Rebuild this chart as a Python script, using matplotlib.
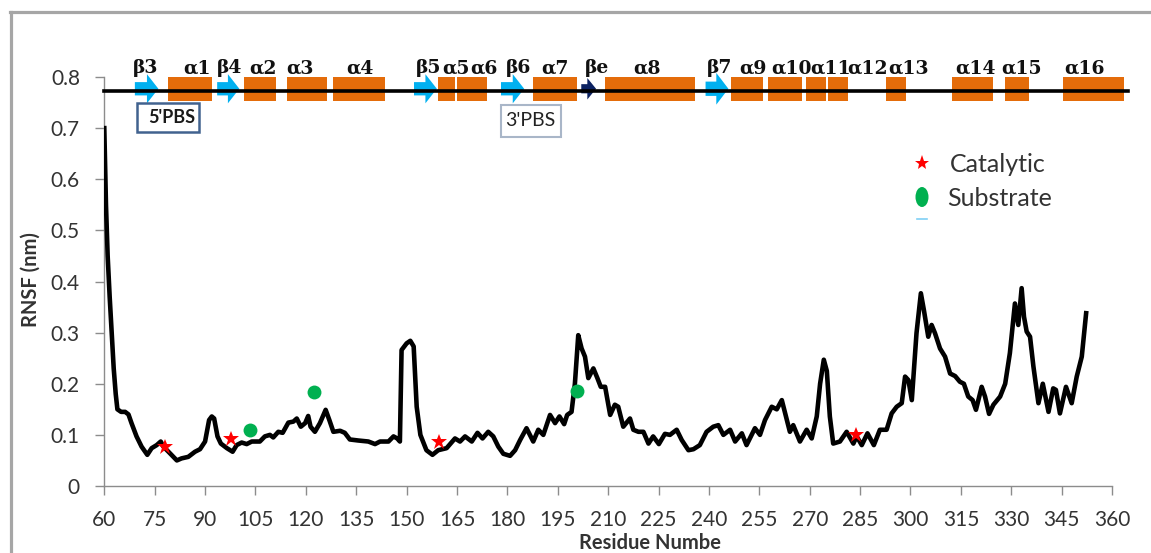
import matplotlib
matplotlib.use("Agg")
import matplotlib.pyplot as plt
from matplotlib.patches import Rectangle, FancyArrow, Ellipse
from matplotlib.lines import Line2D

plt.rcParams['font.family'] = ['Lato', 'DejaVu Sans']

# RMSF profile along the residue chain
residue = [60.0, 60.5, 61.0, 61.6, 62.2, 62.8, 63.4, 63.9, 65.0, 66.2, 67.2, 68.1, 69.6, 71.1,
           72.8, 74.1, 75.6, 76.8, 77.6, 79.1, 81.6, 83.0, 85.0, 87.0, 88.5, 90.0, 91.2, 92.0,
           92.7, 93.7, 94.7, 96.5, 98.2, 99.4, 100.9, 102.4, 103.9, 106.3, 107.8, 109.3, 110.3,
           111.8, 113.1, 114.8, 116.3, 117.3, 118.5, 119.8, 120.7, 121.4, 122.7, 124.2, 125.9,
           127.0, 128.2, 130.2, 131.6, 133.1, 135.6, 138.6, 140.6, 142.1, 144.6, 146.1, 147.2,
           148.0, 148.5, 150.0, 151.1, 152.1, 153.0, 154.1, 155.9, 157.7, 159.4, 161.9, 164.4,
           165.9, 167.4, 169.4, 171.1, 172.6, 174.3, 175.8, 177.3, 178.8, 180.8, 182.3, 183.8,
           185.7, 187.7, 189.2, 190.7, 192.7, 194.2, 195.5, 196.9, 197.8, 199.1, 200.1, 201.1,
           202.1, 203.1, 204.1, 205.6, 206.8, 207.8, 209.1, 210.6, 212.0, 213.0, 214.5, 216.5,
           217.5, 219.0, 220.5, 222.0, 223.4, 225.1, 226.9, 228.4, 230.4, 231.9, 233.9, 235.4,
           237.3, 239.3, 241.3, 242.8, 244.3, 246.3, 247.8, 249.8, 251.2, 253.7, 255.2, 256.7,
           258.7, 260.2, 261.7, 262.6, 264.1, 265.1, 267.1, 269.1, 270.6, 272.1, 273.1, 274.2,
           275.1, 276.0, 277.0, 279.0, 281.0, 283.0, 284.0, 285.5, 287.2, 289.1, 290.9, 292.9,
           294.4, 295.9, 297.4, 298.4, 299.4, 300.4, 301.8, 303.1, 304.0, 305.3, 306.3, 307.3,
           308.8, 310.3, 311.8, 313.3, 314.7, 315.9, 317.2, 318.5, 319.5, 321.2, 322.2, 323.4,
           324.7, 326.7, 328.2, 329.6, 331.1, 332.1, 333.1, 333.8, 334.6, 335.6, 336.6, 338.1,
           339.4, 341.1, 342.5, 343.3, 344.5, 346.3, 348.0, 349.5, 351.0, 352.3]
rmsf = [0.700, 0.550, 0.450, 0.370, 0.300, 0.230, 0.180, 0.150, 0.145, 0.145, 0.140, 0.123, 0.097,
        0.077, 0.061, 0.074, 0.080, 0.087, 0.077, 0.067, 0.050, 0.054, 0.057, 0.067, 0.072, 0.087,
        0.129, 0.136, 0.132, 0.097, 0.083, 0.074, 0.067, 0.080, 0.085, 0.082, 0.087, 0.087, 0.097,
        0.100, 0.095, 0.106, 0.104, 0.124, 0.126, 0.132, 0.116, 0.123, 0.137, 0.116, 0.106, 0.123,
        0.149, 0.129, 0.106, 0.108, 0.104, 0.091, 0.089, 0.087, 0.082, 0.087, 0.087, 0.097, 0.093,
        0.087, 0.266, 0.279, 0.284, 0.273, 0.155, 0.100, 0.070, 0.061, 0.070, 0.074, 0.093, 0.087,
        0.097, 0.087, 0.104, 0.093, 0.106, 0.097, 0.077, 0.063, 0.059, 0.070, 0.090, 0.113, 0.087,
        0.110, 0.100, 0.139, 0.123, 0.136, 0.121, 0.139, 0.145, 0.200, 0.295, 0.269, 0.253, 0.211,
        0.230, 0.211, 0.194, 0.194, 0.139, 0.159, 0.155, 0.116, 0.132, 0.110, 0.106, 0.106, 0.083,
        0.097, 0.082, 0.102, 0.100, 0.110, 0.090, 0.070, 0.072, 0.080, 0.106, 0.116, 0.119, 0.100,
        0.110, 0.087, 0.103, 0.080, 0.113, 0.100, 0.129, 0.155, 0.150, 0.168, 0.145, 0.106, 0.119,
        0.087, 0.110, 0.093, 0.136, 0.200, 0.247, 0.225, 0.136, 0.083, 0.087, 0.106, 0.083, 0.097,
        0.080, 0.103, 0.080, 0.110, 0.110, 0.142, 0.155, 0.162, 0.214, 0.207, 0.168, 0.299, 0.377,
        0.344, 0.292, 0.315, 0.299, 0.269, 0.253, 0.220, 0.215, 0.204, 0.200, 0.175, 0.168, 0.149,
        0.194, 0.175, 0.141, 0.159, 0.175, 0.200, 0.260, 0.357, 0.315, 0.387, 0.331, 0.302, 0.292,
        0.234, 0.162, 0.200, 0.145, 0.191, 0.188, 0.142, 0.194, 0.162, 0.214, 0.253, 0.338]

# Catalytic and substrate-binding residues
catalytic_res = [78.1, 97.6, 159.6, 283.7]
catalytic_val = [0.076, 0.092, 0.086, 0.099]
substrate_res = [103.4, 122.4, 200.6]
substrate_val = [0.110, 0.183, 0.185]

# Secondary-structure elements (start, end residue)
helix_names = ['α1', 'α2', 'α3', 'α4', 'α5', 'α6', 'α7', 'α8', 'α9', 'α10', 'α11', 'α12',
               'α13', 'α14', 'α15', 'α16']
helix_start = [78.9, 101.7, 114.3, 128.1, 159.4, 164.9, 187.7, 209.1, 246.6, 257.7, 268.9,
               275.5, 292.7, 312.5, 328.2, 345.3]
helix_end = [92.0, 111.1, 126.2, 143.6, 164.4, 174.0, 200.8, 235.9, 256.0, 267.8, 274.9,
             281.5, 298.6, 324.5, 335.3, 363.6]
strand_names = ['β3', 'β4', 'β5', 'β6', 'βe', 'β7']
strand_start = [69.1, 93.6, 152.2, 178.1, 202.0, 239.0]
strand_end = [76.1, 100.2, 159.0, 185.0, 206.4, 245.8]

# Label positions above the structure track
label_text = ['β3', 'α1', 'β4', 'α2', 'α3', 'α4', 'β5', 'α5', 'α6', 'β6', 'α7', 'βe', 'α8',
              'β7', 'α9', 'α10', 'α11', 'α12', 'α13', 'α14', 'α15', 'α16']
label_pos = [72.3, 87.5, 97.3, 107.3, 118.3, 136.1, 156.4, 164.6, 173.0, 183.2, 194.3, 206.7,
             221.5, 243.1, 253.0, 264.5, 276.3, 287.2, 299.4, 319.5, 333.1, 351.7]

x_ticks = list(range(60, 361, 15))
y_ticks = [0, 0.1, 0.2, 0.3, 0.4, 0.5, 0.6, 0.7, 0.8]
y_ticklabels = ['0', '0.1', '0.2', '0.3', '0.4', '0.5', '0.6', '0.7', '0.8']

ORANGE = '#e46c0a'
BLUE = '#00b0f0'
NAVY = '#0c2262'
AXIS_GRAY = '#8c8c8c'
TEXT = '#333333'

fig = plt.figure(figsize=(11.51, 5.53), dpi=100)
fig.patch.set_facecolor('white')

# outer chart frame (top and left edges)
fig.add_artist(Line2D([10 / 1151, 1.0], [1 - 11.5 / 553, 1 - 11.5 / 553],
                      transform=fig.transFigure, color='#a6a6a6', lw=2.3))
fig.add_artist(Line2D([10.5 / 1151, 10.5 / 1151], [0.0, 1 - 11.5 / 553],
                      transform=fig.transFigure, color='#a6a6a6', lw=2.3))

ax = fig.add_axes([104.3 / 1151, 1 - 486 / 553, (1112 - 104.3) / 1151, (486 - 77) / 553])
ax.set_xlim(60, 360)
ax.set_ylim(0, 0.8)

ax.plot(residue, rmsf, color='black', lw=3.3, solid_joinstyle='round', zorder=3)
ax.plot(catalytic_res, catalytic_val, linestyle='none', marker='*', color='#ff0000',
        markersize=12, markeredgewidth=0, zorder=4)
ax.plot(substrate_res, substrate_val, linestyle='none', marker='o', color='#00b050',
        markersize=10, markeredgewidth=0, zorder=4)

# axes styling
for side in ('top', 'right'):
    ax.spines[side].set_visible(False)
for side in ('left', 'bottom'):
    ax.spines[side].set_color(AXIS_GRAY)
    ax.spines[side].set_linewidth(1.0)
ax.set_xticks(x_ticks)
ax.set_yticks(y_ticks)
ax.set_yticklabels(y_ticklabels)
ax.tick_params(axis='both', colors=AXIS_GRAY, labelcolor=TEXT, labelsize=15,
               length=6.5, width=1.0, direction='out', pad=11)

fig.text(31 / 1151, 1 - 280 / 553, 'RNSF (nm)', rotation=90, ha='center', va='center',
         fontsize=14.5, fontweight='bold', color=TEXT)
fig.text(650 / 1151, 1 - 543 / 553, 'Residue Numbe', ha='center', va='center',
         fontsize=14.5, fontweight='bold', color=TEXT)

# secondary-structure track
track_y = 0.772
ax.plot([60, 364.8], [track_y, track_y], color='black', lw=2.6, clip_on=False, zorder=6)
for s, e in zip(helix_start, helix_end):
    ax.add_patch(Rectangle((s, 0.754), e - s, 0.046, facecolor=ORANGE, edgecolor='none',
                           clip_on=False, zorder=5))
for name, s, e in zip(strand_names, strand_start, strand_end):
    if name == 'βe':
        color, w, hw, hl = NAVY, 0.018, 0.042, 2.6
    elif name == 'β7':
        color, w, hw, hl = BLUE, 0.028, 0.062, 3.6
    else:
        color, w, hw, hl = BLUE, 0.026, 0.057, 3.4
    ax.add_patch(FancyArrow(s, 0.777, e - s, 0, width=w, head_width=hw, head_length=hl,
                            length_includes_head=True, facecolor=color, edgecolor='none',
                            clip_on=False, zorder=5))
for t, xpos in zip(label_text, label_pos):
    ax.text(xpos, 0.807, t, ha='center', va='baseline', fontsize=13.5, fontweight='bold',
            family='DejaVu Serif', color='#111111', clip_on=False, zorder=7)

# PBS boxes
box5 = Rectangle((69.6, 0.693), 18.7, 0.057, facecolor='white', edgecolor='#41628f',
                 lw=1.8, clip_on=False, zorder=5)
ax.add_patch(box5)
t5 = ax.text(73.0, 0.7205, "5'PBS", ha='left', va='center', fontsize=13, fontweight='bold',
             color='#1a1a1a', zorder=6)
t5.set_clip_path(box5)
box3 = Rectangle((178.0, 0.683), 17.9, 0.063, facecolor='white', edgecolor='#a9b6c8',
                 lw=1.5, clip_on=False, zorder=5)
ax.add_patch(box3)
ax.text(186.95, 0.7145, "3'PBS", ha='center', va='center', fontsize=14, color='#222222',
        clip_on=False, zorder=6)

# legend
fig.add_artist(Line2D([922 / 1151], [1 - 163 / 553], transform=fig.transFigure, marker='*',
                      color='#ff0000', markersize=11, markeredgewidth=0, linestyle='none'))
fig.add_artist(Ellipse((922 / 1151, 1 - 197 / 553), 13 / 1151, 20 / 553,
                       transform=fig.transFigure, facecolor='#00b050', edgecolor='none'))
fig.add_artist(Line2D([917 / 1151, 927 / 1151], [1 - 219 / 553, 1 - 219 / 553],
                      transform=fig.transFigure, color='#7fd0f5', lw=1.2))
fig.text(950 / 1151, 1 - 165 / 553, 'Catalytic', ha='left', va='center', fontsize=18,
         color=TEXT)
fig.text(947 / 1151, 1 - 198 / 553, 'Substrate', ha='left', va='center', fontsize=18,
         color=TEXT)

fig.savefig('out.png', dpi=100, facecolor='white')
